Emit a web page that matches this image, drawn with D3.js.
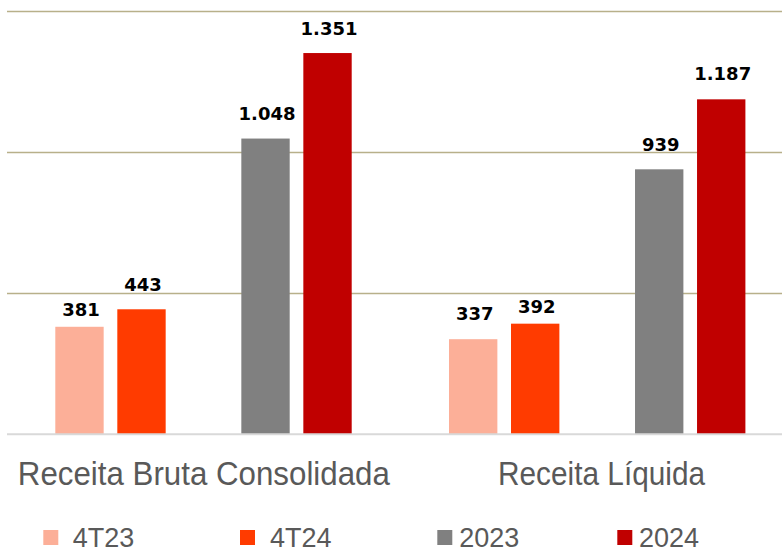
<!DOCTYPE html>
<html lang="pt-BR">
<head>
<meta charset="utf-8">
<title>Receita Bruta e Líquida</title>
<script src="https://cdn.jsdelivr.net/npm/d3@7"></script>
<style>
  html, body { margin: 0; padding: 0; background: #fff; }
  svg { display: block; }
</style>
</head>
<body>
<div id="chart"></div>
<script>
// dados
var categories = ["Receita Bruta Consolidada", "Receita Líquida"];
var seriesNames = ["4T23", "4T24", "2023", "2024"];
var values4T23 = [381, 337];
var values4T24 = [443, 392];
var values2023 = [1048, 939];
var values2024 = [1351, 1187];
var yTicks = [0, 500, 1000, 1500];

var seriesColors = ["#fcaf98", "#ff3b00", "#808080", "#c00000"];
var seriesValues = [values4T23, values4T24, values2023, values2024];

var W = 782, H = 552;
var fmt = d3.formatLocale({decimal: ",", thousands: ".", grouping: [3], currency: ["R$", ""]}).format(",d");

var svg = d3.select("#chart").append("svg").attr("width", W).attr("height", H);

// escalas (a segunda categoria passa um pouco da borda direita)
var x0 = d3.scaleBand().domain(categories).range([7, 7 + 2 * 393.7]);
// slot vazio entre trimestre e ano
var x1 = d3.scaleBand().domain(["4T23", "4T24", "_", "2023", "2024"]).range([48.3, 344.7]).paddingInner(0.22);
var y = d3.scaleLinear().domain([0, 1500]).range([434.3, 11]);

// grade
svg.selectAll(".grid").data(yTicks.filter(function (t) { return t > 0; })).enter()
  .append("line").attr("class", "grid")
  .attr("x1", 7).attr("x2", W)
  .attr("y1", function (d) { return Math.round(y(d)) + 0.5; })
  .attr("y2", function (d) { return Math.round(y(d)) + 0.5; })
  .style("stroke", "#b8b08a").style("stroke-width", 1.3);

var rows = [];
categories.forEach(function (c, ci) {
  seriesNames.forEach(function (s, si) {
    rows.push({cat: c, ser: s, si: si, value: seriesValues[si][ci]});
  });
});

svg.selectAll(".bar").data(rows).enter().append("rect").attr("class", "bar")
  .attr("x", function (d) { return x0(d.cat) + x1(d.ser); })
  .attr("y", function (d) { return y(d.value); })
  .attr("width", x1.bandwidth())
  .attr("height", function (d) { return y(0) - y(d.value); })
  .style("fill", function (d) { return seriesColors[d.si]; });

// linha base
svg.append("line").attr("x1", 7).attr("x2", W).attr("y1", y(0)).attr("y2", y(0))
  .style("stroke", "#d9d9d9").style("stroke-width", 2);

// rótulos de valor (381 e 392 ficam mais perto da barra no original)
var labelLift = [10.6, 18.3, 18.3, 18.3, 19, 11, 18.3, 19];
svg.selectAll(".val").data(rows).enter().append("text").attr("class", "val")
  .attr("x", function (d) { return x0(d.cat) + x1(d.ser) + x1.bandwidth() / 2 + 1.5; })
  .attr("y", function (d, i) { return y(d.value) - labelLift[i]; })
  .attr("text-anchor", "middle")
  .style("font-family", "'DejaVu Sans', sans-serif")
  .style("font-weight", "bold").style("font-size", "18px").style("fill", "#000")
  .text(function (d) { return fmt(d.value); });

// categorias (fonte um pouco condensada no original)
var catWidth = [372, 207];
svg.selectAll(".cat").data(categories).enter().append("text").attr("class", "cat")
  .attr("x", function (d, i) { return x0(d) + x0.bandwidth() / 2 + (i ? 4 : 0); })
  .attr("y", 485)
  .attr("text-anchor", "middle")
  .attr("textLength", function (d, i) { return catWidth[i]; })
  .attr("lengthAdjust", "spacingAndGlyphs")
  .style("font-family", "'Liberation Sans', Arial, sans-serif")
  .style("font-size", "32.5px").style("fill", "#595959")
  .text(function (d) { return d; });

// legenda
var legendX = [43.3, 240, 437.3, 617.3];
var legendGap = [14.4, 15, 7, 6.7];
var lg = svg.selectAll(".leg").data(seriesNames).enter().append("g").attr("class", "leg")
  .attr("transform", function (d, i) { return "translate(" + legendX[i] + ",530)"; });
lg.append("rect").attr("width", 15).attr("height", 15)
  .style("fill", function (d, i) { return seriesColors[i]; });
lg.append("text").attr("x", function (d, i) { return 15 + legendGap[i]; }).attr("y", 16.5)
  .style("font-family", "'Liberation Sans', Arial, sans-serif")
  .style("font-size", "27px").style("fill", "#595959")
  .text(function (d) { return d; });
</script>
</body>
</html>
